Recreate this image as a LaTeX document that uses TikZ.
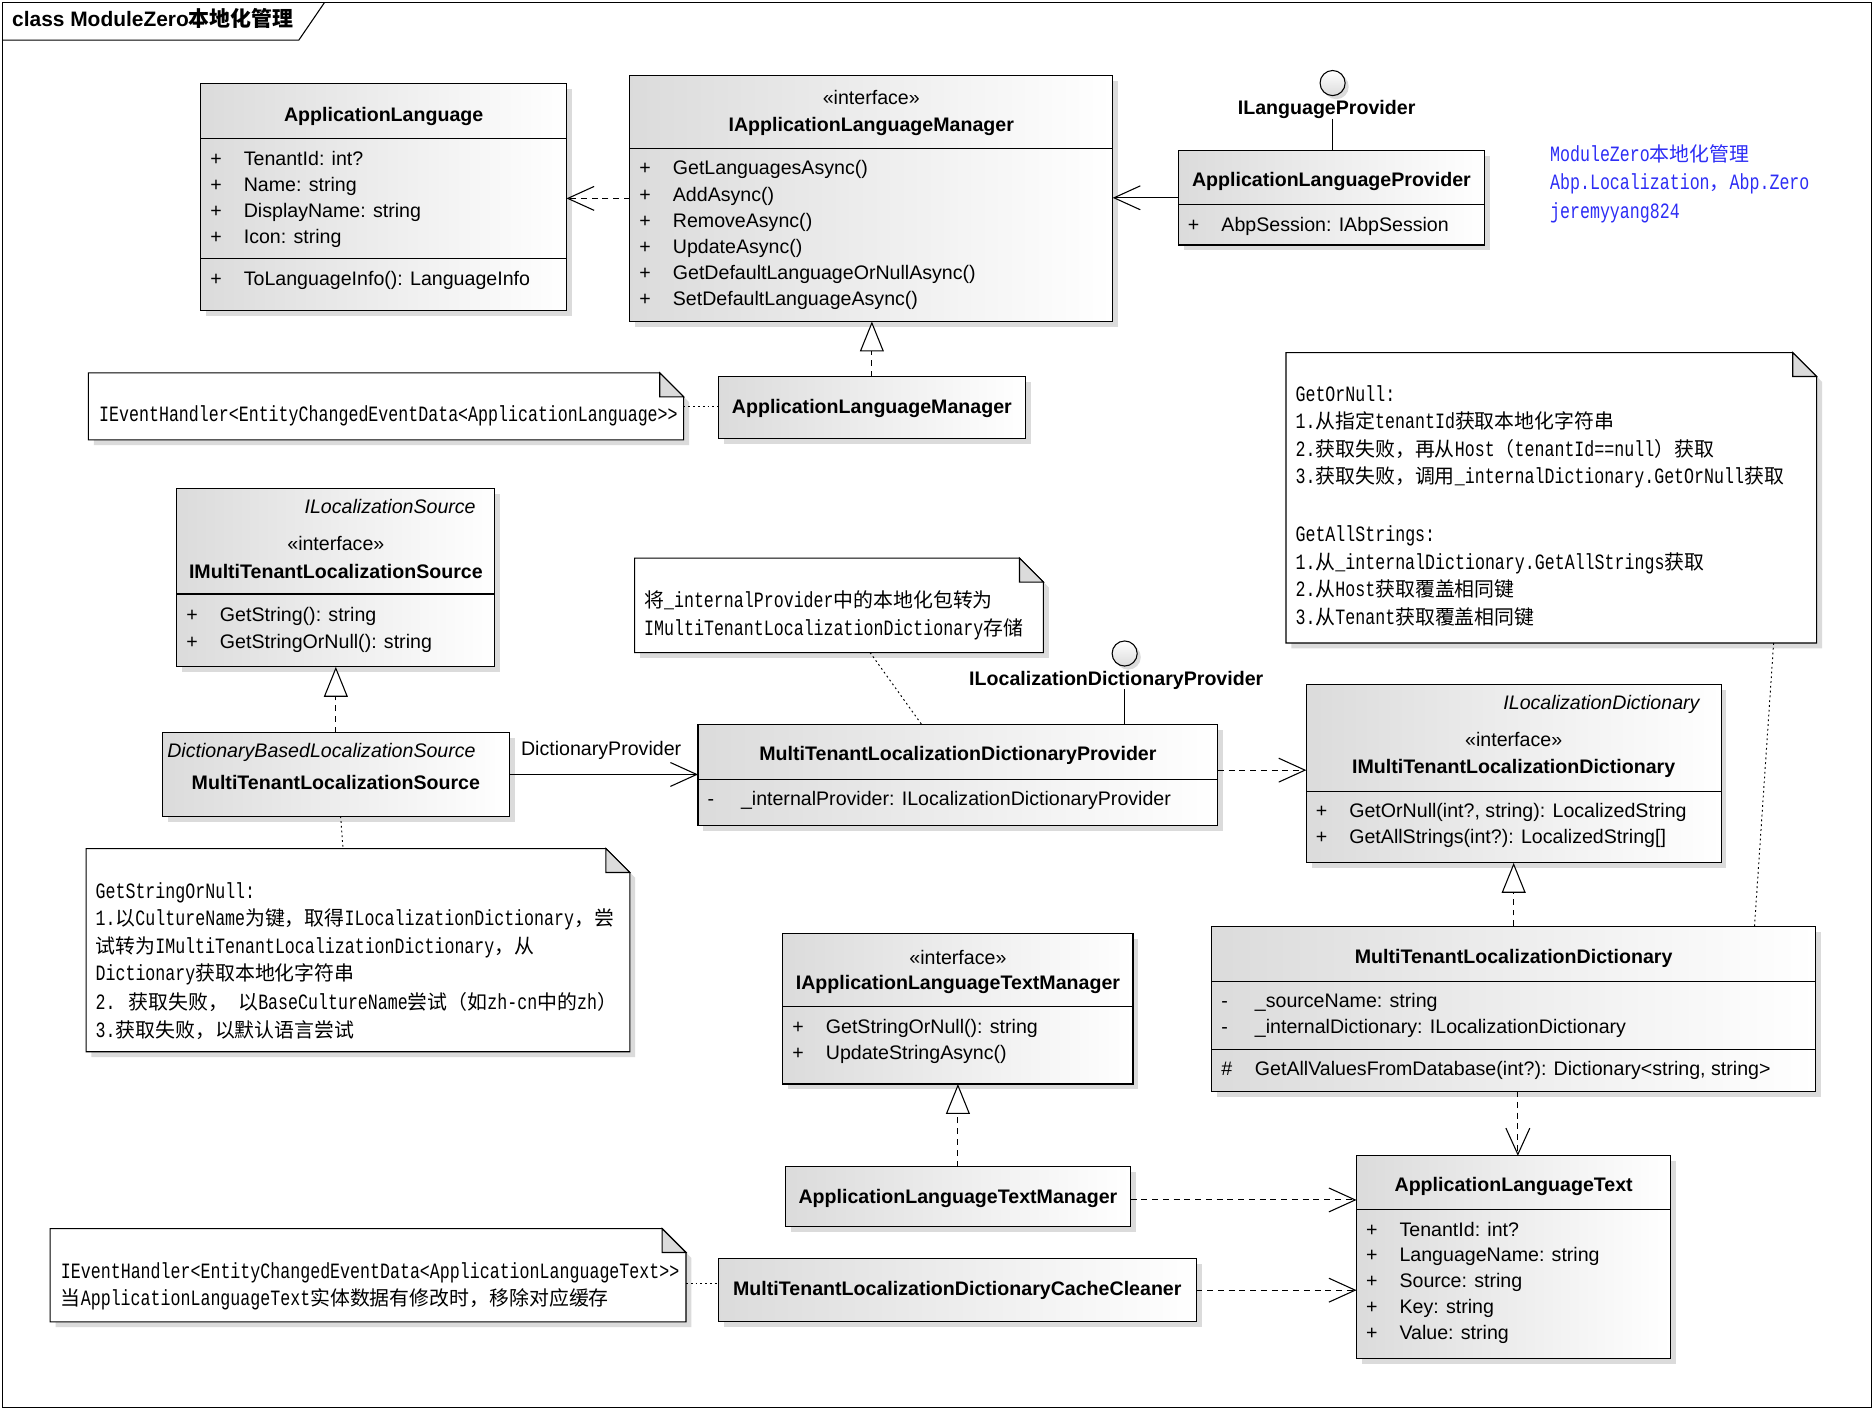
\documentclass[tikz,border=0pt]{standalone}
\usepackage{fontspec}
\setmainfont{Liberation Sans}
\newfontfamily\cjkfont{Noto Sans CJK SC}
\newfontfamily\notemono{Liberation Mono}[FakeStretch=0.76]
\newfontfamily\notecjk[Scale=0.91]{Noto Sans CJK SC}
\usetikzlibrary{arrows.meta,shadows,fit}
\definecolor{bluetxt}{RGB}{45,45,245}
\newcommand\zh[1]{{\notecjk #1}}
\tikzset{
  shad/.style={drop shadow={shadow xshift=4.5pt, shadow yshift=-4.5pt, fill=black!14, opacity=1}},
  cls/.style={draw=black, line width=0.9pt, inner sep=0pt, outer sep=0pt, left color=black!14, right color=white, shad},
  T/.style={font=\fontsize{16.4}{19}\selectfont, inner sep=0pt, outer sep=0pt, anchor=base},
  TB/.style={T, font=\fontsize{16.4}{19}\selectfont\bfseries},
  TI/.style={T, font=\fontsize{16.4}{19}\selectfont\itshape},
  N/.style={font=\fontsize{18.3}{22}\notemono, inner sep=0pt, outer sep=0pt, anchor=base west},
  sepline/.style={line width=0.9pt},
  dep/.style={line width=0.9pt, dash pattern=on 5pt off 4pt, -{Straight Barb[length=22pt,width=20pt,line width=0.9pt]}},
  assoc/.style={line width=0.9pt, -{Straight Barb[length=22pt,width=20pt,line width=0.9pt]}},
  real/.style={line width=0.9pt, dash pattern=on 5pt off 4pt, -{Triangle[length=25pt,width=20pt,line width=0.9pt,fill=white]}},
  notelink/.style={line width=0.8pt, dash pattern=on 1.5pt off 2.5pt},
  lolli/.style={draw, circle, minimum size=21pt, inner sep=0pt, line width=0.9pt, top color=white, bottom color=black!14, drop shadow={shadow xshift=3pt, shadow yshift=-3pt, fill=black!14, opacity=1}}
}
\newcommand\ubox[5]{\coordinate (#1-a) at (#2,#3); \coordinate (#1-b) at (#4,#5); \node[cls, fit=(#1-a)(#1-b)] (#1) {};}
\newcommand\hsep[2]{\draw[sepline] (#1.west |- 0,#2) -- (#1.east |- 0,#2);}
\newcommand\mem[5]{\node[T, anchor=base west] (#1-s) at (#2+8,#3) {#4}; \node[T, anchor=base west] (#1) at (#2+36,#3) {#5};}
\newcommand\notebox[5]{%
  \draw[line width=0.9pt, fill=white, shad] (#2,#3) -- (#4-20,#3) -- (#4,#3+20) -- (#4,#5) -- (#2,#5) -- cycle;
  \draw[line width=0.9pt, fill=black!14] (#4-20,#3) -- (#4-20,#3+20) -- (#4,#3+20) -- cycle;
  \coordinate (#1-nw) at (#2,#3); \coordinate (#1-se) at (#4,#5);}
\begin{document}
\begin{tikzpicture}[x=1pt,y=-1pt]
\useasboundingbox (0,0) rectangle (1568,1180);
\fill[white] (0,0) rectangle (1568,1180);
% frame
\draw[line width=0.9pt] (2,2) rectangle (1566,1178);
\draw[line width=0.9pt] (2,33.6) -- (250,33.6) -- (271.6,2);
\node[anchor=base west, inner sep=0pt, font=\fontsize{17.5}{20}\selectfont\bfseries] (ttl) at (10,22.5) {class ModuleZero{\cjkfont\bfseries 本地化管理}};

% ApplicationLanguage
\ubox{al}{168}{70}{474}{260}
\node[TB] (al-t) at (321,101.5) {ApplicationLanguage};
\hsep{al}{116} \hsep{al}{216}
\mem{al-1}{168}{138.3}{+}{TenantId: int?}
\mem{al-2}{168}{160.1}{+}{Name: string}
\mem{al-3}{168}{181.9}{+}{DisplayName: string}
\mem{al-4}{168}{203.7}{+}{Icon: string}
\mem{al-5}{168}{238.8}{+}{ToLanguageInfo(): LanguageInfo}

% IApplicationLanguageManager
\ubox{ialm}{527}{63}{931}{269}
\node[T] (ialm-st) at (729,87.8) {«interface»};
\node[TB] (ialm-t) at (729,109.8) {IApplicationLanguageManager};
\hsep{ialm}{124}
\mem{ialm-1}{527}{146.4}{+}{GetLanguagesAsync()}
\mem{ialm-2}{527}{168.2}{+}{AddAsync()}
\mem{ialm-3}{527}{190}{+}{RemoveAsync()}
\mem{ialm-4}{527}{211.8}{+}{UpdateAsync()}
\mem{ialm-5}{527}{233.6}{+}{GetDefaultLanguageOrNullAsync()}
\mem{ialm-6}{527}{255.4}{+}{SetDefaultLanguageAsync()}

% ApplicationLanguageProvider
\ubox{alp}{986}{126}{1242}{205}
\node[TB] (alp-t) at (1114,156.4) {ApplicationLanguageProvider};
\hsep{alp}{171}
\mem{alp-1}{986}{193.4}{+}{AbpSession: IAbpSession}
\node[lolli] (ilp) at (1115,69.5) {};
\node[TB] (ilp-l) at (1110,95.8) {ILanguageProvider};
\draw[line width=0.9pt] (ilp-l.south -| ilp) -- (ilp |- alp.north);

% blue text
\node[N, text=bluetxt] (b1) at (1297,135.2) {ModuleZero\zh{本地化管理}};
\node[N, text=bluetxt] (b2) at (1297,158.5) {Abp.Localization\zh{，}Abp.Zero};
\node[N, text=bluetxt] (b3) at (1297,182.5) {jeremyyang824};

% ApplicationLanguageManager
\ubox{alm}{601}{315}{858}{367}
\node[TB] (alm-t) at (729.5,345.8) {ApplicationLanguageManager};

% note 1
\notebox{n1}{74}{312}{572}{368}
\node[N] (n1-1) at (83,352.8) {IEventHandler<EntityChangedEventData<ApplicationLanguage>>};

% ILocalizationSource / IMultiTenantLocalizationSource
\ubox{ils}{148}{409}{414}{558}
\node[TI, anchor=base east] (ils-i) at (398,429.3) {ILocalizationSource};
\node[T] (ils-st) at (281,460.8) {«interface»};
\node[TB] (ils-t) at (281,483.7) {IMultiTenantLocalizationSource};
\hsep{ils}{497}
\mem{ils-1}{148}{520.4}{+}{GetString(): string}
\mem{ils-2}{148}{542.2}{+}{GetStringOrNull(): string}

% MultiTenantLocalizationSource
\ubox{mtls}{136}{613}{426}{683}
\node[TI, anchor=base west] (mtls-i) at (140,633.4) {DictionaryBasedLocalizationSource};
\node[TB] (mtls-t) at (281,660.2) {MultiTenantLocalizationSource};

% note 2
\notebox{n2}{531}{467}{873}{546}
\node[N] (n2-1) at (539,508.2) {\zh{将}\_internalProvider\zh{中的本地化包转为}};
\node[N] (n2-2) at (539,532) {IMultiTenantLocalizationDictionary\zh{存储}};

% MultiTenantLocalizationDictionaryProvider
\ubox{mtldp}{584}{606}{1019}{691}
\node[TB] (mtldp-t) at (801.5,636.2) {MultiTenantLocalizationDictionaryProvider};
\hsep{mtldp}{652}
\mem{mtldp-1}{584}{673.8}{-}{\_internalProvider: ILocalizationDictionaryProvider}
\node[lolli] (ildp) at (941,546.8) {};
\node[TB] (ildp-l) at (934,573.3) {ILocalizationDictionaryProvider};
\draw[line width=0.9pt] (ildp-l.south -| ildp) -- (ildp |- mtldp.north);

% note 3
\notebox{n3}{1076}{295}{1520}{538}
\node[N] (n3-1) at (1084,336) {GetOrNull:};
\node[N] (n3-2) at (1084,358.4) {1.\zh{从指定}tenantId\zh{获取本地化字符串}};
\node[N] (n3-3) at (1084,382.1) {2.\zh{获取失败，再从}Host\zh{（}tenantId==null\zh{）获取}};
\node[N] (n3-4) at (1084,404.9) {3.\zh{获取失败，调用}\_internalDictionary.GetOrNull\zh{获取}};
\node[N] (n3-5) at (1084,453.2) {GetAllStrings:};
\node[N] (n3-6) at (1084,476.3) {1.\zh{从}\_internalDictionary.GetAllStrings\zh{获取}};
\node[N] (n3-7) at (1084,499.2) {2.\zh{从}Host\zh{获取覆盖相同键}};
\node[N] (n3-8) at (1084,522.5) {3.\zh{从}Tenant\zh{获取覆盖相同键}};

% IMultiTenantLocalizationDictionary
\ubox{imtld}{1093}{573}{1440}{722}
\node[TI, anchor=base east] (imtld-i) at (1422,593.4) {ILocalizationDictionary};
\node[T] (imtld-st) at (1266.5,624.8) {«interface»};
\node[TB] (imtld-t) at (1266.5,647.5) {IMultiTenantLocalizationDictionary};
\hsep{imtld}{662}
\mem{imtld-1}{1093}{684.4}{+}{GetOrNull(int?, string): LocalizedString}
\mem{imtld-2}{1093}{705.8}{+}{GetAllStrings(int?): LocalizedString[]}

% note 5
\notebox{n5}{72}{710}{527}{880}
\node[N] (n5-1) at (80,751.5) {GetStringOrNull:};
\node[N] (n5-2) at (80,774.5) {1.\zh{以}CultureName\zh{为键，取得}ILocalizationDictionary\zh{，尝}};
\node[N] (n5-3) at (80,798) {\zh{试转为}IMultiTenantLocalizationDictionary\zh{，从}};
\node[N] (n5-4) at (80,820.5) {Dictionary\zh{获取本地化字符串}};
\node[N] (n5-5) at (80,844.5) {2. \zh{获取失败，} \zh{以}BaseCultureName\zh{尝试（如}zh-cn\zh{中的}zh\zh{）}};
\node[N] (n5-6) at (80,868.2) {3.\zh{获取失败，以默认语言尝试}};

% MultiTenantLocalizationDictionary
\ubox{mtld}{1014}{775}{1519}{913}
\node[TB] (mtld-t) at (1266.5,805.8) {MultiTenantLocalizationDictionary};
\hsep{mtld}{821} \hsep{mtld}{878}
\mem{mtld-1}{1014}{843.2}{-}{\_sourceName: string}
\mem{mtld-2}{1014}{864.8}{-}{\_internalDictionary: ILocalizationDictionary}
\mem{mtld-3}{1014}{899.6}{\#}{GetAllValuesFromDatabase(int?): Dictionary<string, string>}

% IApplicationLanguageTextManager
\ubox{ialtm}{655}{781}{948}{907}
\node[T] (ialtm-st) at (801.5,806.7) {«interface»};
\node[TB] (ialtm-t) at (801.5,828.1) {IApplicationLanguageTextManager};
\hsep{ialtm}{842.5}
\mem{ialtm-1}{655}{864.6}{+}{GetStringOrNull(): string}
\mem{ialtm-2}{655}{886.6}{+}{UpdateStringAsync()}

% ApplicationLanguageTextManager
\ubox{altm}{657}{976}{946}{1026}
\node[TB] (altm-t) at (801.5,1007.2) {ApplicationLanguageTextManager};

% ApplicationLanguageText
\ubox{alt}{1135}{967}{1398}{1137}
\node[TB] (alt-t) at (1266.5,996.7) {ApplicationLanguageText};
\hsep{alt}{1012}
\mem{alt-1}{1135}{1034.3}{+}{TenantId: int?}
\mem{alt-2}{1135}{1055.9}{+}{LanguageName: string}
\mem{alt-3}{1135}{1077.5}{+}{Source: string}
\mem{alt-4}{1135}{1099.1}{+}{Key: string}
\mem{alt-5}{1135}{1120.7}{+}{Value: string}

% Cache cleaner
\ubox{clean}{601}{1053}{1001}{1106}
\node[TB] (clean-t) at (801,1083.8) {MultiTenantLocalizationDictionaryCacheCleaner};

% note 4
\notebox{n4}{42}{1028}{574}{1106}
\node[N] (n4-1) at (51,1069.5) {IEventHandler<EntityChangedEventData<ApplicationLanguageText>>};
\node[N] (n4-2) at (51,1091.9) {\zh{当}ApplicationLanguageText\zh{实体数据有修改时，移除对应缓存}};

% connectors
\draw[dep] (ialm.west) -- (ialm.west -| al.east);
\draw[assoc] (alp.west) -- (alp.west -| ialm.east);
\draw[real] (alm.north) -- (alm.north |- ialm.south);
\draw[real] (mtls.north) -- (mtls.north |- ils.south);
\draw[assoc] (mtls.east) -- (mtls.east -| mtldp.west);
\node[T, anchor=base west] (dpl) at (436,631.8) {DictionaryProvider};
\draw[dep] (mtldp.east |- 0,644.4) -- (imtld.west |- 0,644.4);
\draw[real] (mtld.north) -- (mtld.north |- imtld.south);
\draw[dep] (1270,0 |- mtld.south) -- (1270,0 |- alt.north);
\draw[real] (altm.north) -- (altm.north |- ialtm.south);
\draw[dep] (altm.east |- 0,1004) -- (alt.west |- 0,1004);
\draw[dep] (clean.east) -- (clean.east -| alt.west);
\coordinate (n1-e) at (572,340.5);
\draw[notelink] (n1-e) -- (n1-e -| alm.west);
\coordinate (n2-s) at (728,546);
\draw[notelink] (n2-s) -- (771,0 |- mtldp.north);
\coordinate (n3-s) at (1484,538);
\draw[notelink] (n3-s) -- (1468,0 |- mtld.north);
\coordinate (n5-n) at (287,710);
\draw[notelink] (285,0 |- mtls.south) -- (n5-n);
\coordinate (n4-e) at (574,1074);
\draw[notelink] (n4-e) -- (n4-e -| clean.west);
\end{tikzpicture}
\end{document}
